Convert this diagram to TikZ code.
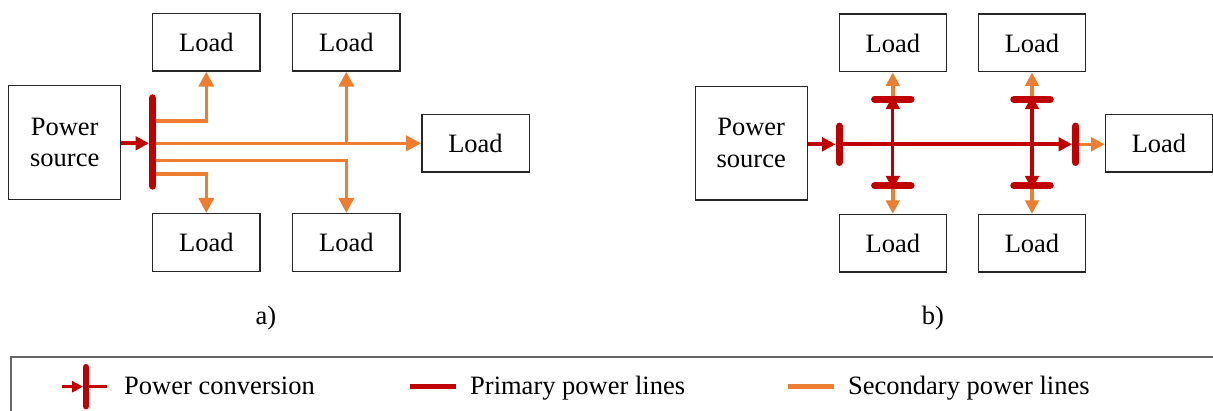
\documentclass[tikz,border=0pt]{standalone}
\usepackage{fontspec}
\setmainfont{Liberation Serif}
\usetikzlibrary{arrows.meta}
\definecolor{myred}{HTML}{C00000}
\definecolor{myorange}{HTML}{ED7D31}
\definecolor{legendgray}{HTML}{666666}
\newcommand\lblfont{\fontsize{26.5}{31.8}\selectfont}
\tikzset{
  box/.style={draw=black!85, line width=1.3pt, minimum width=107.3pt, minimum height=57.7pt, inner sep=0pt, font=\lblfont, align=center},
  srcbox/.style={box, minimum width=112pt, minimum height=113.6pt},
  prim/.style={draw=myred, line width=3.6pt},
  sec/.style={draw=myorange, line width=3.4pt},
  bus/.style={draw=myred, line width=7.5pt, line cap=round},
  tipa/.style={-{Triangle[length=15pt,width=15pt]}},
  tipb/.style={-{Triangle[length=13.5pt,width=13.5pt]}},
  tipl/.style={-{Triangle[length=11pt,width=11pt]}},
  lbl/.style={font=\lblfont, inner sep=0pt}
}
\begin{document}
\begin{tikzpicture}[x=1pt,y=-1pt]
\useasboundingbox (0,0) rectangle (1213,411);

% ---------- panel a ----------
\node[srcbox] (psa) at (64.7,142.5) {Power\\source};
\node[box] (la1) at (206.3,42.2) {Load};
\node[box] (la2) at (346.3,42.2) {Load};
\node[box] (la3) at (475.5,143.2) {Load};
\node[box] (la4) at (206.3,242.5) {Load};
\node[box] (la5) at (346.3,242.5) {Load};

\coordinate (busaT) at (152.7,98);
\coordinate (busaB) at (152.7,186);
\coordinate (ba1) at (152.7,121);
\coordinate (ba2) at (152.7,143.3);
\coordinate (ba3) at (152.7,160.3);
\coordinate (ba4) at (152.7,174);
\coordinate (ja) at (346.3,143.3);

\draw[sec, tipa] (ba1) -| (la1.south);
\draw[sec, tipa] (ba2) -- (la3.west |- ba2);
\draw[sec, tipa] (ja) -- (la2.south);
\draw[sec, tipa] (ba3) -| (la5.north);
\draw[sec, tipa] (ba4) -| (la4.north);
\draw[prim, tipb] (psa.east |- ba2) -- ([xshift=-3.7pt]ba2);
\draw[bus] (busaT) -- (busaB);

\node[lbl] (capa) at (266,318) {a)};

% ---------- panel b ----------
\node[srcbox] (psb) at (751.2,143.2) {Power\\source};
\node[box] (lb1) at (892.8,43) {Load};
\node[box] (lb2) at (1032,43) {Load};
\node[box] (lb3) at (1159,143.2) {Load};
\node[box] (lb4) at (892.8,243.3) {Load};
\node[box] (lb5) at (1032,243.3) {Load};

\coordinate (inb) at (839.3,144.3);
\coordinate (outb) at (1075.7,144.3);
\coordinate (j1) at (892.8,144.3);
\coordinate (j2) at (1032,144.3);
\coordinate (t1) at (892.8,99.3);
\coordinate (d1) at (892.8,185.7);
\coordinate (t2) at (1032,99.3);
\coordinate (d2) at (1032,185.7);

% orange secondary
\draw[sec, tipb] (t1) -- (lb1.south);
\draw[sec, tipb] (d1) -- (lb4.north);
\draw[sec, tipb] (t2) -- (lb2.south);
\draw[sec, tipb] (d2) -- (lb5.north);
\draw[sec, tipb] (outb) -- (lb3.west |- outb);
% red primary
\draw[prim, tipb] (psb.east |- inb) -- ([xshift=-3.7pt]inb);
\draw[prim, line width=4pt, tipb] (inb) -- ([xshift=-3.7pt]outb);
\draw[prim, line width=3.2pt, tipb] (j1) -- ([yshift=3.7pt]t1);
\draw[prim, line width=3.2pt, tipb] (j1) -- ([yshift=-3.7pt]d1);
\draw[prim, line width=3.2pt, tipb] (j2) -- ([yshift=3.7pt]t2);
\draw[prim, line width=3.2pt, tipb] (j2) -- ([yshift=-3.7pt]d2);
% converter bars
\draw[bus] ([yshift=-18pt]inb) -- ([yshift=18pt]inb);
\draw[bus] ([yshift=-18pt]outb) -- ([yshift=18pt]outb);
\draw[bus] ([xshift=-18pt]t1) -- ([xshift=18pt]t1);
\draw[bus] ([xshift=-18pt]d1) -- ([xshift=18pt]d1);
\draw[bus] ([xshift=-18pt]t2) -- ([xshift=18pt]t2);
\draw[bus] ([xshift=-18pt]d2) -- ([xshift=18pt]d2);

\node[lbl] (capb) at (933,318) {b)};

% ---------- legend ----------
\draw[draw=legendgray, line width=2pt] (11,356.7) rectangle (1230,430);
\coordinate (lgA) at (62,386.7);
\coordinate (lgB) at (86,386.7);
\coordinate (lgC) at (107,386.7);
\draw[prim, line width=3pt, tipl] (lgA) -- ([xshift=-3pt]lgB);
\draw[prim, line width=3pt] (lgB) -- (lgC);
\draw[bus, line width=6.5pt] ([yshift=-19.5pt]lgB) -- ([yshift=19.5pt]lgB);
\node[lbl, anchor=base west] (lgt1) at (124,395) {Power conversion};

\coordinate (lpA) at (410,386.7);
\coordinate (lpB) at (456,386.7);
\draw[prim, line width=4.5pt] (lpA) -- (lpB);
\node[lbl, anchor=base west] (lgt2) at (470,395) {Primary power lines};

\coordinate (lsA) at (788,386.7);
\coordinate (lsB) at (834,386.7);
\draw[sec, line width=4.5pt] (lsA) -- (lsB);
\node[lbl, anchor=base west] (lgt3) at (848,395) {Secondary power lines};
\end{tikzpicture}
\end{document}
